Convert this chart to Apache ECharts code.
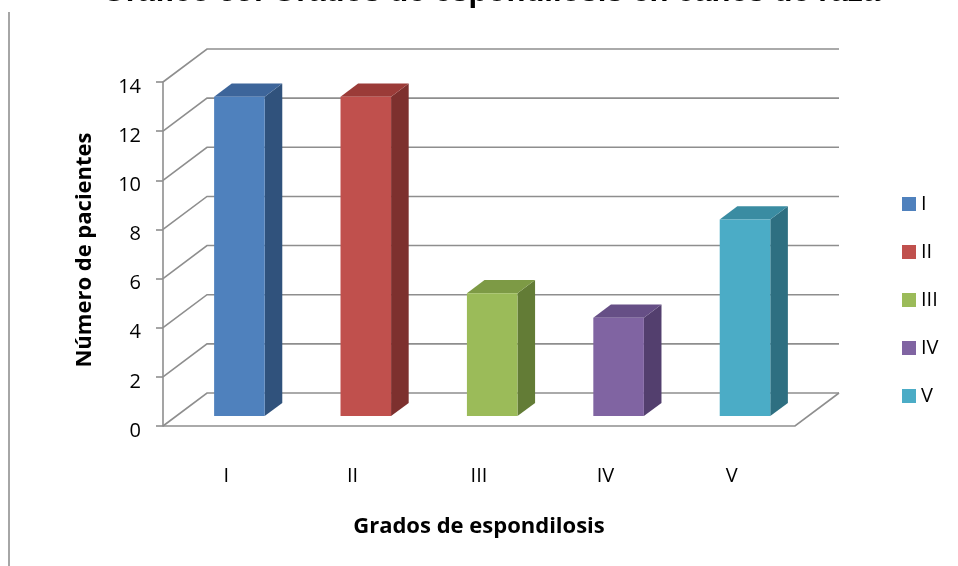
<!DOCTYPE html>
<html>
<head>
<meta charset="utf-8">
<script src="https://cdn.jsdelivr.net/npm/echarts@6/dist/echarts.min.js"></script>
<style>
  html, body { margin: 0; padding: 0; background: #fff; }
  #chart { width: 958px; height: 566px; }
</style>
</head>
<body>
<div id="chart"></div>
<script>
// Grados de espondilosis: number of patients per grade
const categories = ['I', 'II', 'III', 'IV', 'V'];
const pacientes = [13, 13, 5, 4, 8];
const yTicks = [0, 2, 4, 6, 8, 10, 12, 14];

// face colours for each grade: front, side, top
const frontColors = ['#4F81BD', '#C0504D', '#9BBB59', '#8064A2', '#4BACC6'];
const sideColors  = ['#30527C', '#7D302E', '#637C36', '#533F6E', '#2E6F81'];
const topColors   = ['#3D659A', '#9B3B38', '#7D9A45', '#664F86', '#3A8CA2'];

// oblique projection of the depth axis (pixels)
const DEPTH = { x: 44, y: -33 };
const BAR_FRONT = 0.3;   // bar front face position inside the depth
const BAR_DEPTH = 0.4;   // bar thickness along the depth
const WALL = '#8E8E8E';

const chart = echarts.init(document.getElementById('chart'), null, { renderer: 'canvas' });

function bar3d(i) {
  return function (params, api) {
    const cat = api.value(0);
    const v = api.value(1);
    const top = api.coord([cat, v]);
    const base = api.coord([cat, 0]);
    const w = api.size([1, 0])[0] * 0.4;
    const fx = DEPTH.x * BAR_FRONT, fy = DEPTH.y * BAR_FRONT;
    const bx = DEPTH.x * BAR_DEPTH, by = DEPTH.y * BAR_DEPTH;
    const x0 = top[0] - w / 2 + fx, x1 = x0 + w;
    const yT = top[1] + fy, yB = base[1] + fy;
    return {
      type: 'group',
      children: [
        { type: 'polygon', shape: { points: [[x1, yT], [x1 + bx, yT + by], [x1 + bx, yB + by], [x1, yB]] },
          style: { fill: sideColors[i] } },
        { type: 'polygon', shape: { points: [[x0, yT], [x1, yT], [x1 + bx, yT + by], [x0 + bx, yT + by]] },
          style: { fill: topColors[i] } },
        { type: 'polygon', shape: { points: [[x0, yT], [x1, yT], [x1, yB], [x0, yB]] },
          style: { fill: api.visual('color') } }
      ]
    };
  };
}

// back wall gridlines, their diagonals to the front axis, and the floor
function wallLine(params, api) {
  const v = api.value(0);
  const cs = params.coordSys;
  const y = api.coord([0, v])[1];
  const left = cs.x, right = cs.x + cs.width;
  const style = { stroke: WALL, lineWidth: 1.6, fill: null };
  const children = [
    { type: 'polyline', shape: { points: [[left, y], [left + DEPTH.x, y + DEPTH.y], [right + DEPTH.x, y + DEPTH.y]] }, style }
  ];
  if (v === 0) {
    children.push({ type: 'polyline', shape: { points: [[left, y], [right, y], [right + DEPTH.x, y + DEPTH.y]] }, style });
  }
  return { type: 'group', children };
}

const series = [{
  type: 'custom',
  name: 'wall',
  renderItem: wallLine,
  data: yTicks.map(t => [t]),
  encode: { y: 0 },
  silent: true,
  z: 1
}].concat(categories.map((name, i) => ({
  type: 'custom',
  name: name,
  renderItem: bar3d(i),
  itemStyle: { color: frontColors[i] },
  data: [[i, pacientes[i]]],
  encode: { x: 0, y: 1 },
  z: 5
})));

chart.setOption({
  animation: false,
  backgroundColor: '#fff',
  grid: { left: 163, right: 163, top: 82, bottom: 140 },
  xAxis: {
    type: 'category',
    data: categories,
    axisLine: { show: false },
    axisTick: { show: false },
    axisLabel: { margin: 40, fontSize: 20, color: '#000', fontFamily: 'Open Sans' }
  },
  yAxis: {
    type: 'value',
    min: 0, max: 14, interval: 2,
    axisLine: { show: true, lineStyle: { color: WALL, width: 1.6 } },
    axisTick: { show: true, length: 7, lineStyle: { color: WALL, width: 1.6 } },
    splitLine: { show: false },
    axisLabel: {
      margin: 22, color: '#000',
      formatter: '{t|{value}}',
      rich: { t: { fontSize: 20, fontFamily: 'Open Sans', color: '#000', padding: [10, 0, 0, 0] } }
    }
  },
  legend: {
    data: categories,
    orient: 'vertical',
    left: 897,
    top: 189,
    itemWidth: 14,
    itemHeight: 14,
    itemGap: 28,
    icon: 'rect',
    textStyle: { fontSize: 20, color: '#000', fontFamily: 'Open Sans', padding: [6, 0, 0, 0] }
  },
  graphic: [
    { type: 'line', shape: { x1: 9, y1: 12, x2: 9, y2: 566 }, style: { stroke: '#A6A6A6', lineWidth: 2 } },
    { type: 'text', x: 491, y: -8,
      style: { text: 'Gráfico 33: Grados de espondilosis en canes de raza', font: 'bold 31px "Liberation Sans"',
               fill: '#000', textAlign: 'center', textVerticalAlign: 'middle' } },
    { type: 'text', x: 85, y: 250, rotation: Math.PI / 2,
      style: { text: 'Número de pacientes', font: 'bold 22px "Open Sans"', fill: '#000',
               textAlign: 'center', textVerticalAlign: 'middle' } },
    { type: 'text', x: 479, y: 527,
      style: { text: 'Grados de espondilosis', font: 'bold 22px "Open Sans"', fill: '#000',
               textAlign: 'center', textVerticalAlign: 'middle' } }
  ],
  series: series
});
</script>
</body>
</html>
